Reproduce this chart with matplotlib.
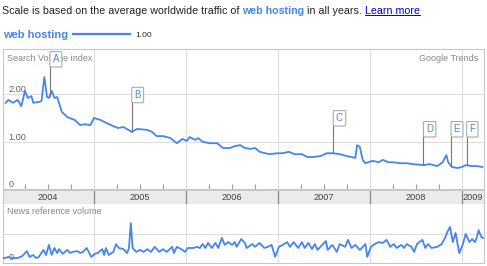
import numpy as np
import matplotlib.pyplot as plt
import matplotlib.transforms as mtransforms

plt.rcParams['font.family'] = ['Liberation Sans', 'DejaVu Sans']

# search volume index for "web hosting" (fractional years)
search_years = [2004.04, 2004.07, 2004.12, 2004.17, 2004.21, 2004.25, 2004.28, 2004.32, 2004.34,
                2004.41, 2004.43, 2004.46, 2004.49, 2004.51, 2004.54, 2004.57, 2004.60, 2004.65,
                2004.71, 2004.76, 2004.79, 2004.85, 2004.90, 2004.96, 2005.00, 2005.07, 2005.14,
                2005.21, 2005.26, 2005.32, 2005.41, 2005.47, 2005.58, 2005.63, 2005.68, 2005.75,
                2005.83, 2005.90, 2005.96, 2006.01, 2006.04, 2006.10, 2006.13, 2006.18, 2006.26,
                2006.34, 2006.40, 2006.48, 2006.53, 2006.59, 2006.64, 2006.70, 2006.75, 2006.80,
                2006.86, 2006.91, 2006.99, 2007.05, 2007.12, 2007.18, 2007.26, 2007.32, 2007.38,
                2007.46, 2007.53, 2007.60, 2007.67, 2007.75, 2007.80, 2007.84, 2007.86, 2007.89,
                2007.92, 2007.95, 2007.98, 2008.03, 2008.09, 2008.14, 2008.20, 2008.25, 2008.33,
                2008.40, 2008.47, 2008.58, 2008.65, 2008.73, 2008.79, 2008.83, 2008.85, 2008.89,
                2008.95, 2009.00, 2009.04, 2009.11, 2009.16, 2009.22]
search_vals = [1.82, 1.88, 1.82, 1.88, 1.75, 2.07, 1.92, 1.96, 1.82,
               1.84, 1.86, 2.36, 1.94, 1.92, 2.07, 1.92, 1.94, 1.63,
               1.52, 1.48, 1.46, 1.35, 1.37, 1.35, 1.50, 1.46, 1.39,
               1.33, 1.29, 1.31, 1.21, 1.27, 1.25, 1.21, 1.12, 1.12,
               1.08, 0.97, 1.06, 1.02, 1.10, 1.04, 1.08, 1.00, 0.97,
               0.97, 0.87, 0.87, 0.91, 0.93, 0.87, 0.85, 0.87, 0.79,
               0.76, 0.74, 0.76, 0.76, 0.79, 0.74, 0.74, 0.68, 0.68,
               0.70, 0.76, 0.76, 0.74, 0.70, 0.68, 0.66, 0.93, 0.89,
               0.62, 0.55, 0.57, 0.60, 0.57, 0.62, 0.57, 0.57, 0.55,
               0.55, 0.53, 0.51, 0.53, 0.49, 0.57, 0.72, 0.57, 0.47,
               0.45, 0.47, 0.51, 0.49, 0.49, 0.47]

# news reference volume (unlabelled scale)
news_years = [2004.00, 2004.03, 2004.07, 2004.11, 2004.14, 2004.17, 2004.22, 2004.27, 2004.30,
              2004.34, 2004.37, 2004.40, 2004.45, 2004.48, 2004.51, 2004.54, 2004.57, 2004.60,
              2004.62, 2004.66, 2004.71, 2004.74, 2004.77, 2004.82, 2004.85, 2004.88, 2004.92,
              2004.97, 2005.01, 2005.04, 2005.09, 2005.11, 2005.13, 2005.16, 2005.21, 2005.24,
              2005.27, 2005.32, 2005.36, 2005.38, 2005.40, 2005.42, 2005.46, 2005.50, 2005.54,
              2005.58, 2005.62, 2005.66, 2005.71, 2005.75, 2005.79, 2005.85, 2005.87, 2005.90,
              2005.95, 2005.99, 2006.02, 2006.08, 2006.12, 2006.15, 2006.18, 2006.21, 2006.24,
              2006.28, 2006.32, 2006.35, 2006.39, 2006.42, 2006.46, 2006.50, 2006.53, 2006.55,
              2006.60, 2006.64, 2006.66, 2006.72, 2006.75, 2006.80, 2006.85, 2006.89, 2006.93,
              2006.97, 2007.01, 2007.05, 2007.10, 2007.13, 2007.17, 2007.22, 2007.26, 2007.29,
              2007.33, 2007.37, 2007.40, 2007.43, 2007.49, 2007.52, 2007.54, 2007.59, 2007.64,
              2007.67, 2007.73, 2007.76, 2007.80, 2007.84, 2007.89, 2007.95, 2007.97, 2008.01,
              2008.05, 2008.10, 2008.14, 2008.18, 2008.22, 2008.26, 2008.29, 2008.34, 2008.37,
              2008.40, 2008.45, 2008.48, 2008.51, 2008.57, 2008.60, 2008.63, 2008.67, 2008.73,
              2008.78, 2008.82, 2008.84, 2008.87, 2008.90, 2008.93, 2008.97, 2009.01, 2009.04,
              2009.08, 2009.11, 2009.14, 2009.16, 2009.18, 2009.21, 2009.23]
news_vals = [0.14, 0.14, 0.18, 0.14, 0.14, 0.14, 0.21, 0.39, 0.18,
             0.25, 0.14, 0.18, 0.43, 0.25, 0.61, 0.25, 0.50, 0.32,
             0.46, 0.29, 0.43, 0.32, 0.36, 0.39, 0.32, 0.36, 0.50,
             0.18, 0.29, 0.32, 0.46, 0.25, 0.50, 0.25, 0.36, 0.64,
             0.50, 0.46, 0.32, 0.50, 1.39, 0.50, 0.36, 0.43, 0.36,
             0.46, 0.36, 0.54, 0.36, 0.46, 0.36, 0.54, 0.32, 0.54,
             0.46, 0.36, 0.50, 0.50, 0.54, 0.50, 0.64, 0.50, 0.68,
             0.50, 0.68, 0.50, 0.86, 0.61, 0.71, 0.61, 0.71, 0.54,
             0.82, 0.68, 0.50, 0.64, 0.54, 0.68, 0.50, 0.54, 0.61,
             0.18, 0.54, 0.61, 0.71, 0.54, 0.71, 0.50, 0.71, 0.50,
             0.68, 0.46, 0.64, 0.43, 0.64, 0.75, 0.43, 0.61, 0.36,
             0.64, 0.54, 0.79, 0.50, 0.61, 0.43, 0.64, 0.18, 0.54,
             0.64, 0.71, 0.68, 0.79, 0.54, 0.64, 0.50, 0.61, 0.50,
             0.64, 0.54, 0.36, 0.64, 0.79, 0.50, 0.64, 0.50, 0.54,
             0.64, 0.89, 1.07, 1.25, 0.71, 1.04, 0.32, 0.64, 1.00,
             0.71, 0.82, 0.71, 0.86, 1.14, 0.89, 0.86]

flag_labels = ['A', 'B', 'C', 'D', 'E', 'F']
flag_years = [2004.52, 2005.41, 2007.60, 2008.58, 2008.88, 2009.05]
flag_tops = [2.57, 1.82, 1.33, 1.10, 1.10, 1.10]

year_labels = ['2004', '2005', '2006', '2007', '2008', '2009']
y_ticks = [0, 1, 2]
y_ticklabels = ['0', '1.00', '2.00']

BLUE = '#4684ee'
GRID = '#dddddd'
W, H = 487, 266
X0, X1 = 2004.011, 2009.239

fig = plt.figure(figsize=(W / 100, H / 100), dpi=100)


def box(left, top, right, bottom):
    return [left / W, 1 - bottom / H, (right - left) / W, (bottom - top) / H]


def frame(a):
    for s in a.spines.values():
        s.set_color('#c8c8c8')
        s.set_linewidth(0.8)


years = np.arange(2005, 2010)
quarters = [y + q for y in range(2004, 2010) for q in (0.25, 0.5, 0.75) if y + q < X1]

# main chart
ax = fig.add_axes(box(3, 49, 484, 189.4))
ax.plot(search_years, search_vals, color=BLUE, lw=1.3, zorder=3)
ax.set_xticks(years)
ax.set_xticks(quarters, minor=True)
ax.set_xlim(X0, X1)
ax.set_ylim(0, 2.95)
ax.set_yticks(y_ticks)
ax.grid(True, which='major', color=GRID, lw=0.8)
ax.tick_params(which='both', labelbottom=False, labelleft=False, left=False)
ax.tick_params(which='major', length=0)
ax.tick_params(which='minor', direction='in', length=3.5, color='#999999', width=0.8)
frame(ax)
for v, s in zip(y_ticks, y_ticklabels):
    ax.text(0.012, v, s, transform=ax.get_yaxis_transform(), fontsize=6.6,
            color='#666666', va='bottom', zorder=2)
ax.text(0.008, 0.965, 'Search Volume index', transform=ax.transAxes, fontsize=6.5,
        color='#888888', va='top', zorder=1)
ax.text(0.988, 0.965, 'Google Trends', transform=ax.transAxes, fontsize=6.5,
        color='#888888', va='top', ha='right')

# event flags
pad = 2.0
flag_tr = mtransforms.offset_copy(ax.transData, fig=fig, x=pad, y=pad, units='points')
for lab, fx_, top in zip(flag_labels, flag_years, flag_tops):
    base = np.interp(fx_, search_years, search_vals)
    ax.plot([fx_, fx_], [base, top], color='#777777', lw=0.8, zorder=4)
    ax.text(fx_, top, lab, transform=flag_tr, fontsize=7, color=BLUE, ha='left', va='bottom',
            zorder=5, bbox=dict(boxstyle='round,pad=0.28,rounding_size=0.12', fc='white',
                                ec='#aaaaaa', lw=0.8))

# year band
band = fig.add_axes(box(3, 190, 484, 204))
band.set_facecolor('#ebebeb')
band.set_xticks(years)
band.set_xticks(quarters, minor=True)
band.set_xlim(X0, X1)
band.set_ylim(0, 1)
band.set_yticks([])
band.tick_params(which='both', labelbottom=False, direction='out', color='#999999', width=0.8)
band.tick_params(which='minor', length=3.5)
band.tick_params(which='major', length=3.5)
band.grid(True, which='major', axis='x', color='#888888', lw=0.9)
frame(band)
for s in year_labels:
    c = min(int(s) + 0.5, (int(s) + X1) / 2)
    band.text(c, 0.5, s, fontsize=6.6, color='#444444', ha='center', va='center')

# news panel
news = fig.add_axes(box(3, 204, 484, 263))
news.plot(news_years, news_vals, color=BLUE, lw=1.3, zorder=3)
news.set_xticks(years)
news.set_xlim(X0, X1)
news.set_ylim(-0.036, 2.07)
news.set_yticks([1])
news.grid(True, color=GRID, lw=0.8)
news.tick_params(length=0, labelbottom=False, labelleft=False)
frame(news)
news.spines['top'].set_visible(False)
news.text(0.008, 0.80, 'News reference volume', transform=news.transAxes, fontsize=6.5,
          color='#888888', va='bottom')
news.text(0.012, 0, '0', transform=news.get_yaxis_transform(), fontsize=6.6,
          color='#666666', va='bottom', zorder=2)

# header text runs
fig.canvas.draw()
r = fig.canvas.get_renderer()


def run(parts, x, y):
    out = []
    for s, kw in parts:
        t = fig.text(x / W, 1 - y / H, s, va='baseline', **kw)
        bb = t.get_window_extent(r)
        out.append(t)
        x += bb.width
    return out


FS = 7.7
runs = run([('Scale is based on the average worldwide traffic of ', dict(fontsize=FS, color='#222222')),
            ('web hosting', dict(fontsize=FS, color=BLUE, fontweight='bold')),
            (' in all years. ', dict(fontsize=FS, color='#222222')),
            ('Learn more', dict(fontsize=FS, color='#0000cc'))], 2, 13.5)
bb = runs[-1].get_window_extent(r)
fig.add_artist(plt.Line2D([bb.x0 / W, bb.x1 / W], [(H - 15.3) / H] * 2, color='#0000cc', lw=0.7))

fig.text(3 / W, 1 - 37.7 / H, 'web hosting', fontsize=8.0, fontweight='bold', color=BLUE, va='baseline')
fig.add_artist(plt.Line2D([73 / W, 130 / W], [1 - 34.3 / H] * 2, color=BLUE, lw=1.6))
fig.text(135 / W, 1 - 37 / H, '1.00', fontsize=6, color='#222222', va='baseline')

fig.savefig('out.png', dpi=100)
